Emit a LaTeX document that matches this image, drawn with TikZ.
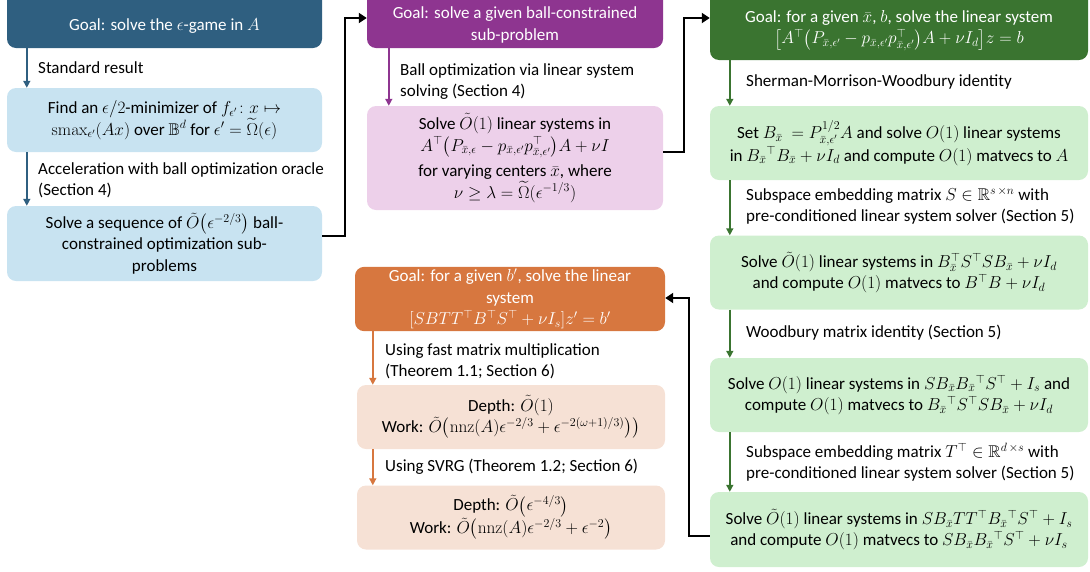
\documentclass[tikz,border=0pt]{standalone}
\usepackage{amsmath,amssymb}
\usepackage[no-math]{fontspec}
\setmainfont{Carlito}
\usetikzlibrary{arrows.meta}
\definecolor{dblue}{HTML}{2F5F80}
\definecolor{lblue}{HTML}{C8E3F1}
\definecolor{dpurp}{HTML}{8E3590}
\definecolor{lpurp}{HTML}{EDD0EA}
\definecolor{dgreen}{HTML}{3A7430}
\definecolor{lgreen}{HTML}{CFEFCF}
\definecolor{dorange}{HTML}{D7773F}
\definecolor{lorange}{HTML}{F6E1D5}
\tikzset{
  box/.style={rounded corners=9pt, draw=none, align=center, inner sep=2pt,
    font=\fontsize{17}{21.5}\selectfont},
  txt/.style={align=center, inner sep=0pt, text=white, font=\fontsize{17}{21.5}\selectfont},
  lab/.style={anchor=west, align=left, inner sep=0pt, font=\fontsize{17}{21}\selectfont},
  carr/.style={line width=1.5pt, -{Triangle[width=7pt,length=7pt]}},
  karr/.style={line width=2.6pt, -{Triangle[width=10pt,length=8pt]}},
}
\begin{document}
\begin{tikzpicture}[x=1pt,y=-1pt]
\useasboundingbox (0,0) rectangle (1090,571);
% left column
\node[box, fill=dblue, minimum width=315pt, minimum height=64pt] (b1) at (164.5,16) {};
\node[txt] (t1) at (164.5,26) {Goal: solve the $\epsilon$-game in $A$};
\node[box, fill=lblue, minimum width=315pt, minimum height=64pt] (b2) at (164.5,120)
  {Find an $\epsilon/2$-minimizer of $f_{\epsilon'}\colon x\mapsto$\\
   $\mathrm{smax}_{\epsilon'}(Ax)$ over $\mathbb{B}^d$ for $\epsilon'=\widetilde{\Omega}(\epsilon)$};
\node[box, fill=lblue, minimum width=315pt, minimum height=75pt] (b3) at (164.5,243.5)
  {Solve a sequence of $\tilde{O}\bigl(\epsilon^{-2/3}\bigr)$ ball-\\constrained optimization sub-\\problems};
% middle column
\node[box, fill=dpurp, minimum width=296pt, minimum height=64pt] (b4) at (515,16) {};
\node[txt] (t4) at (515,25) {Goal: solve a given ball-constrained\\sub-problem};
\node[box, fill=lpurp, minimum width=296pt, minimum height=104pt, font=\fontsize{17}{22}\selectfont] (b5) at (515,158)
  {Solve $\tilde{O}(1)$ linear systems in\\
   $A^{\top}\bigl(P_{\bar x,\epsilon}-p_{\bar x,\epsilon'}p_{\bar x,\epsilon'}^{\top}\bigr)A+\nu I$\\[3pt]
   for varying centers $\bar x$, where\\
   $\nu\ge\lambda=\widetilde{\Omega}(\epsilon^{-1/3})$};
% right column
\node[box, fill=dgreen, minimum width=378pt, minimum height=76pt] (b6) at (899,22) {};
\node[txt] (t6) at (899,30.5)
  {Goal: for a given $\bar x$, $b$, solve the linear system\\
   $\bigl[A^{\top}\bigl(P_{\bar x,\epsilon'}-p_{\bar x,\epsilon'}p_{\bar x,\epsilon'}^{\top}\bigr)A+\nu I_d\bigr]z=b$};
\node[box, fill=lgreen, minimum width=378pt, minimum height=74pt] (b7) at (899,143)
  {Set $B_{\bar x}\ =P^{1/2}_{\bar x,\epsilon'}A$ and solve $O(1)$ linear systems\\
   in $B_{\bar x}{}^{\top}B_{\bar x}+\nu I_d$ and compute $O(1)$ matvecs to $A$};
\node[box, fill=lgreen, minimum width=378pt, minimum height=74pt] (b8) at (899,272.5)
  {Solve $\tilde{O}(1)$ linear systems in $B_{\bar x}^{\top}S^{\top}SB_{\bar x}+\nu I_d$\\
   and compute $O(1)$ matvecs to $B^{\top}B+\nu I_d$};
\node[box, fill=lgreen, minimum width=378pt, minimum height=74pt] (b9) at (899,395)
  {Solve $O(1)$ linear systems in $SB_{\bar x}B_{\bar x}{}^{\top}S^{\top}+I_s$ and\\
   compute $O(1)$ matvecs to $B_{\bar x}{}^{\top}S^{\top}SB_{\bar x}+\nu I_d$};
\node[box, fill=lgreen, minimum width=378pt, minimum height=75pt] (b10) at (899,529.5)
  {Solve $\tilde{O}(1)$ linear systems in $SB_{\bar x}TT^{\top}B_{\bar x}{}^{\top}S^{\top}+I_s$\\
   and compute $O(1)$ matvecs to $SB_{\bar x}B_{\bar x}{}^{\top}S^{\top}+\nu I_s$};
% bottom middle
\node[box, fill=dorange, text=white, minimum width=310pt, minimum height=64pt] (b11) at (510,299)
  {Goal: for a given $b'$, solve the linear\\ system\\
   $[SBTT^{\top}B^{\top}S^{\top}+\nu I_s]z'=b'$};
\node[box, fill=lorange, minimum width=308pt, minimum height=64pt] (b12) at (511,417)
  {Depth: $\tilde{O}(1)$\\
   Work: $\tilde{O}\bigl(\mathrm{nnz}(A)\epsilon^{-2/3}+\epsilon^{-2(\omega+1)/3)}\bigr)\bigr)$};
\node[box, fill=lorange, minimum width=308pt, minimum height=64pt] (b13) at (511,517.5)
  {Depth: $\tilde{O}\bigl(\epsilon^{-4/3}\bigr)$\\
   Work: $\tilde{O}\bigl(\mathrm{nnz}(A)\epsilon^{-2/3}+\epsilon^{-2}\bigr)$};
% coloured arrows
\draw[carr, dblue] ([xshift=20pt]b1.south west) -- ([xshift=20pt]b2.north west);
\draw[carr, dblue] ([xshift=20pt]b2.south west) -- ([xshift=20pt]b3.north west);
\draw[carr, dpurp] ([xshift=22pt]b4.south west) -- ([xshift=22pt]b5.north west);
\draw[carr, dgreen] ([xshift=20pt]b6.south west) -- ([xshift=20pt]b7.north west);
\draw[carr, dgreen] ([xshift=20pt]b7.south west) -- ([xshift=20pt]b8.north west);
\draw[carr, dgreen] ([xshift=20pt]b8.south west) -- ([xshift=20pt]b9.north west);
\draw[carr, dgreen] ([xshift=20pt]b9.south west) -- ([xshift=20pt]b10.north west);
\draw[carr, dorange] ([xshift=18pt]b11.south west) -- ([xshift=16pt]b12.north west);
\draw[carr, dorange] ([xshift=16pt]b12.south west) -- ([xshift=16pt]b13.north west);
% labels
\node[lab] (l1) at (38,68) {Standard result};
\node[lab] (l2) at (38,180) {Acceleration with ball optimization oracle\\(Section 4)};
\node[lab] (l3) at (400,82) {Ball optimization via linear system\\solving (Section 4)};
\node[lab] (l4) at (746,82) {Sherman-Morrison-Woodbury identity};
\node[lab] (l5) at (746,206) {Subspace embedding matrix $S\in\mathbb{R}^{s\,\times n}$ with\\pre-conditioned linear system solver (Section 5)};
\node[lab] (l6) at (746,333) {Woodbury matrix identity (Section 5)};
\node[lab] (l7) at (746,462) {Subspace embedding matrix $T^{\top}\in\mathbb{R}^{d\,\times s}$ with\\pre-conditioned linear system solver (Section 5)};
\node[lab] (l8) at (385,361) {Using fast matrix multiplication\\(Theorem 1.1; Section 6)};
\node[lab] (l9) at (385,467) {Using SVRG (Theorem 1.2; Section 6)};
% black connectors
\coordinate (c1) at (345,236);
\coordinate (c2) at (684,152);
\coordinate (c3) at (689,536);
\draw[karr, line join=miter] (b3.east |- c1) -- (c1) -- (c1 |- 0,18) -- (b4.west |- 0,18);
\draw[karr, line join=miter] (b5.east |- c2) -- (c2) -- (c2 |- 0,18) -- (b6.west |- 0,18);
\draw[karr, line join=miter] (b10.west |- c3) -- (c3) -- (c3 |- 0,298) -- (b11.east |- 0,298);
\end{tikzpicture}
\end{document}
